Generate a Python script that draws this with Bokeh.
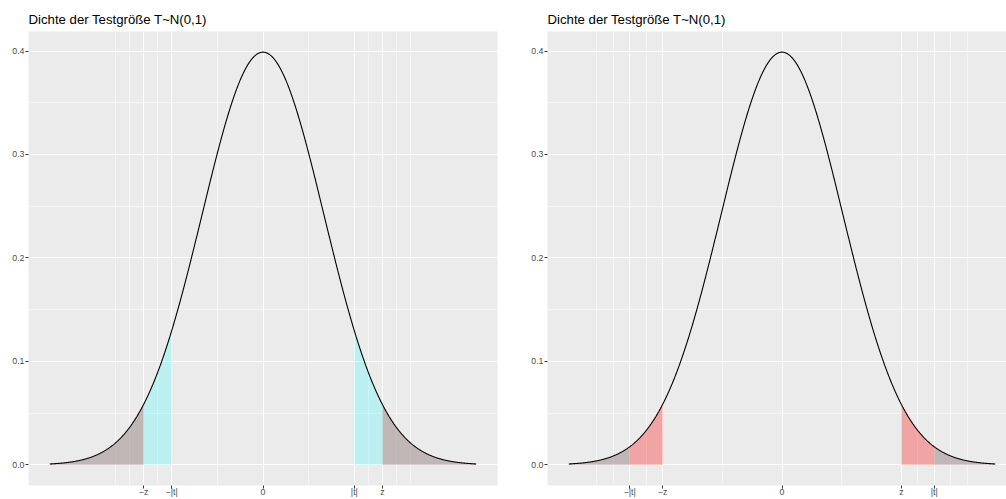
import numpy as np
from bokeh.plotting import figure
from bokeh.layouts import row
from bokeh.models import Range1d, FixedTicker
from bokeh.embed import file_html
from bokeh.resources import INLINE

# ---- data / parameters ----
title_text = "Dichte der Testgröße T~N(0,1)"
x_lo, x_hi = -3.5, 3.5          # plotted support of the density
z_crit = 1.96                   # critical value z
t_left = 1.50                   # |t| in left panel
t_right = 2.50                  # |t| in right panel
y_breaks = [0.0, 0.1, 0.2, 0.3, 0.4]
y_labels = ["0.0", "0.1", "0.2", "0.3", "0.4"]
x_labels_left = ["\u2212z", "\u2212|t|", "0", "|t|", "z"]
x_labels_right = ["\u2212|t|", "\u2212z", "0", "z", "|t|"]

FONT = "Liberation Sans"
BG = "#EBEBEB"
FRAME_W_FULL = 469


def dens(x):
    return np.exp(-0.5 * x ** 2) / np.sqrt(2 * np.pi)


def minor_breaks(b, lo, hi):
    b = list(b)
    core = set(round(v, 6) for v in b)
    bd = b[1] - b[0]
    if lo < b[0]:
        b = [b[0] - bd] + b
    if hi > b[-1]:
        b = b + [b[-1] + bd]
    out = []
    for i in range(len(b) - 1):
        out += [b[i], (b[i] + b[i + 1]) / 2]
    out.append(b[-1])
    return sorted(v for v in set(round(v, 6) for v in out) if v not in core)


def make_panel(t_abs, labels, width, bl, br, frame_w):
    span = x_hi - x_lo
    xs0 = x_lo - 0.05 * span
    xe0 = x_hi + 0.05 * span
    px_per_unit = FRAME_W_FULL / (xe0 - xs0)
    xe = xs0 + frame_w / px_per_unit
    ymax = float(dens(0.0))
    ys0 = 0 - 0.05 * ymax
    ye0 = ymax + 0.05 * ymax

    p = figure(width=width, height=499, output_backend="svg", toolbar_location=None,
               x_range=Range1d(xs0, xe), y_range=Range1d(ys0, ye0),
               min_border_left=bl, min_border_right=br, min_border_top=31, min_border_bottom=13)
    p.background_fill_color = BG
    p.border_fill_color = "white"
    p.outline_line_color = None

    majors = sorted([-z_crit, -t_abs, 0.0, t_abs, z_crit])
    lbl = dict(zip(majors, labels))
    minors = minor_breaks(majors, xs0, xe0)
    p.xaxis.ticker = FixedTicker(ticks=majors, minor_ticks=minors)
    p.xaxis.major_label_overrides = {float(k): v for k, v in lbl.items()}
    ymin = minor_breaks(y_breaks, ys0, ye0)
    p.yaxis.ticker = FixedTicker(ticks=y_breaks, minor_ticks=ymin)
    p.yaxis.major_label_overrides = dict(zip(y_breaks, y_labels))

    for ax in (p.xaxis[0], p.yaxis[0]):
        ax.axis_line_color = None
        ax.major_tick_line_color = "#333333"
        ax.major_tick_line_width = 1
        ax.major_tick_out = 3
        ax.major_tick_in = 0
        ax.minor_tick_out = 0
        ax.minor_tick_in = 0
        ax.major_label_text_color = "#4D4D4D"
        ax.major_label_text_font = FONT
        ax.major_label_text_font_size = "8.8px"
    p.xaxis[0].major_label_standoff = -2
    p.yaxis[0].major_label_standoff = 1

    for g in (p.xgrid[0], p.ygrid[0]):
        g.grid_line_color = "white"
        g.grid_line_width = 1.07
        g.minor_grid_line_color = "white"
        g.minor_grid_line_width = 0.53

    xs = np.unique(np.concatenate([np.linspace(x_lo, x_hi, 1401),
                                   [-z_crit, z_crit, -t_abs, t_abs]]))
    ys = dens(xs)
    # red: beyond z ; cyan: beyond |t|
    for thr, col, a in ((z_crit, "#FF0000", 0.3), (t_abs, "#00FFFF", 0.2)):
        m = xs <= -thr
        p.varea(x=xs[m], y1=np.zeros(m.sum()), y2=ys[m], fill_color=col, fill_alpha=a)
        m = xs >= thr
        p.varea(x=xs[m], y1=np.zeros(m.sum()), y2=ys[m], fill_color=col, fill_alpha=a)
    p.line(xs, ys, line_color="black", line_width=1.1)

    p.title.text = title_text
    p.title.text_font = FONT
    p.title.text_font_size = "13.2px"
    p.title.text_font_style = "normal"
    p.title.text_color = "black"
    p.title.align = "left"
    p.title.offset = 0
    p.title.standoff = 9
    return p


p1 = make_panel(t_left, x_labels_left, 522, 28, 25, 469)
p2 = make_panel(t_right, x_labels_right, 484, 25, 0, 459)

layout = row(p1, p2)
open("out.html", "w").write(file_html(layout, INLINE))
